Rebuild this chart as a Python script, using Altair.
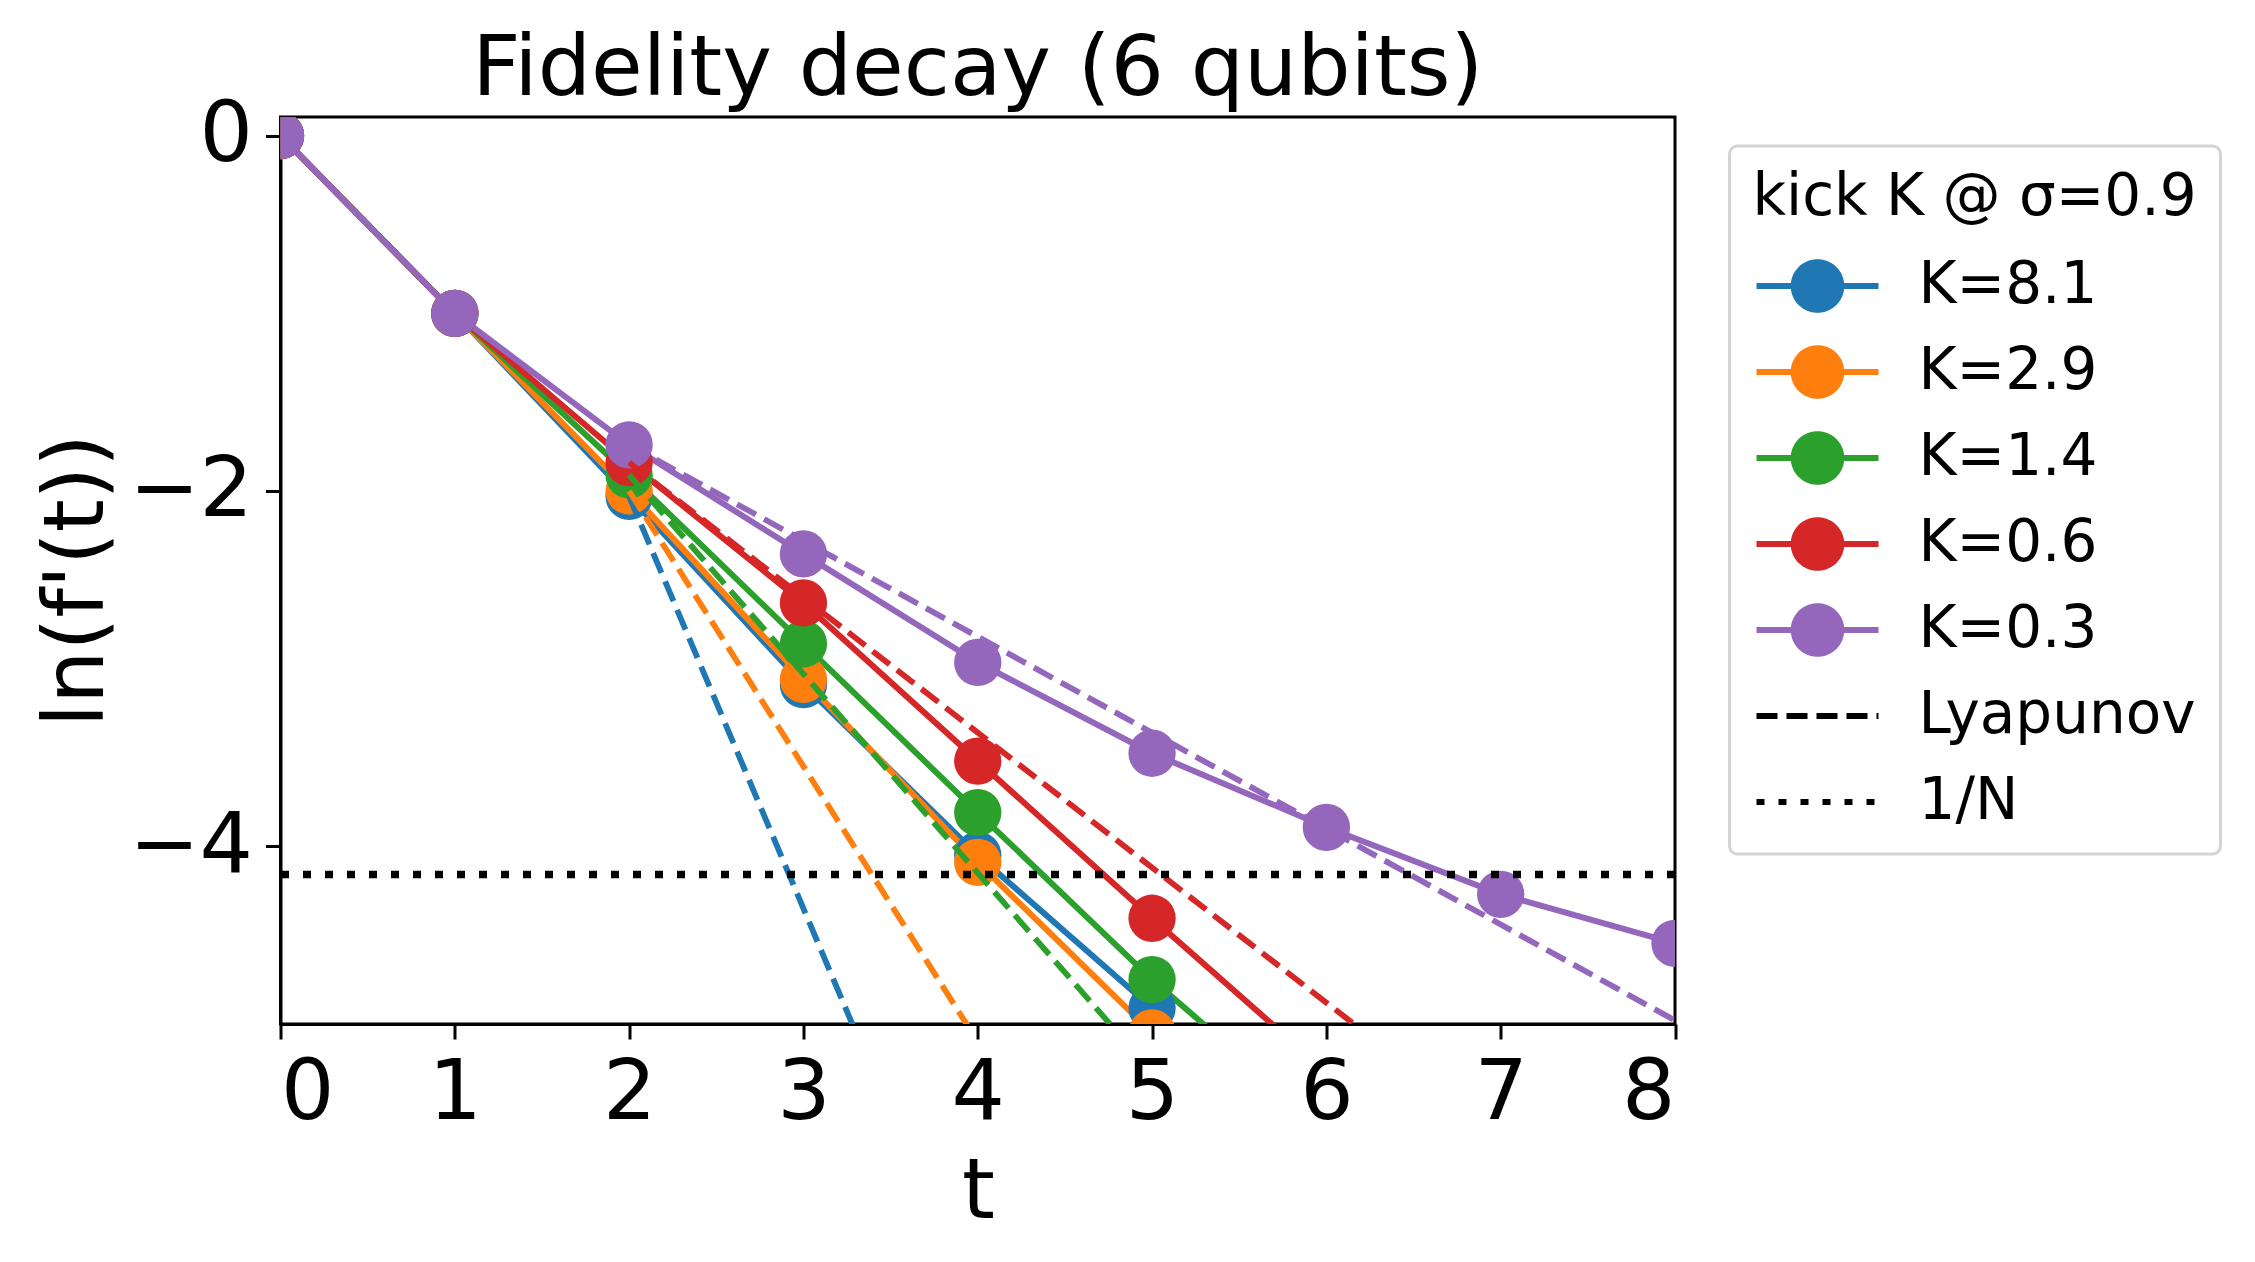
import altair as alt
import pandas as pd

# ---- data ----
series_names = ["K=8.1", "K=2.9", "K=1.4", "K=0.6", "K=0.3"]
series_colors = ["#1f77b4", "#ff7f0e", "#2ca02c", "#d62728", "#9467bd"]

t_blue = [0, 1, 2, 3, 4, 5, 6]
y_blue = [0.0, -1.0, -2.03, -3.09, -4.05, -4.91, -5.80]
t_orange = [0, 1, 2, 3, 4, 5, 6]
y_orange = [0.0, -1.0, -2.00, -3.06, -4.09, -5.05, -6.00]
t_green = [0, 1, 2, 3, 4, 5, 6]
y_green = [0.0, -1.0, -1.91, -2.86, -3.81, -4.75, -5.60]
t_red = [0, 1, 2, 3, 4, 5, 6]
y_red = [0.0, -1.0, -1.84, -2.63, -3.52, -4.405, -5.27]
t_purple = [0, 1, 2, 3, 4, 5, 6, 7, 8]
y_purple = [0.0, -1.0, -1.74, -2.354, -2.965, -3.476, -3.893, -4.27, -4.546]

# Lyapunov (dashed) lines: start at t=2, end at t=8
lyap_t = [2, 8]
lyap_blue = [-2.03, -15.95]
lyap_orange = [-2.00, -11.30]
lyap_green = [-1.91, -8.63]
lyap_red = [-1.84, -6.40]
lyap_purple = [-1.74, -4.98]

one_over_n = [-4.158]

legend_extra = ["Lyapunov", "1/N"]

# ---- tables ----
rows = []
for name, ts, ys in zip(series_names,
                        [t_blue, t_orange, t_green, t_red, t_purple],
                        [y_blue, y_orange, y_green, y_red, y_purple]):
    for t, y in zip(ts, ys):
        rows.append({"series": name, "t": t, "y": y})
df = pd.DataFrame(rows)

lrows = []
for name, ys in zip(series_names, [lyap_blue, lyap_orange, lyap_green, lyap_red, lyap_purple]):
    for t, y in zip(lyap_t, ys):
        lrows.append({"series": name, "t": t, "y": y})
dfl = pd.DataFrame(lrows)

dfn = pd.DataFrame({"y": one_over_n})
dfleg = pd.DataFrame({"series": series_names + legend_extra})

domain = series_names + legend_extra
color_range = series_colors + ["black", "black"]

R = 0.39
circ_line = (f"M-1,0L1,0M{R},0A{R},{R},0,1,1,-{R},0A{R},{R},0,1,1,{R},0Z")
plain_line = "M-1,0L1,0"
shape_range = [circ_line] * 5 + [plain_line, plain_line]
dash_range = [[1, 0]] * 5 + [[21, 9], [8, 14]]

FONT = "DejaVu Sans"

xscale = alt.Scale(domain=[0, 8], nice=False, zero=False)
yscale = alt.Scale(domain=[-5, 0.105], nice=False, zero=False)

x_enc = alt.X("t:Q", scale=xscale,
              axis=alt.Axis(title="t", values=list(range(9)), format="d",
                            titleX=697.5, titleY=193, titleBaseline="alphabetic",
                            titleAlign="center"))
y_enc = alt.Y("y:Q", scale=yscale,
              axis=alt.Axis(title="ln(f'(t))", values=[0, -2, -4], format="d",
                            titleX=-178, titleY=463, titleAngle=270,
                            titleBaseline="alphabetic", titleAlign="center"))

color_scale = alt.Scale(domain=domain, range=color_range)

leg = alt.Legend(
    title="kick K @ σ=0.9",
    orient="none", legendX=1449, legendY=29,
    symbolSize=14884, symbolStrokeWidth=6,
    clipHeight=58, rowPadding=28, labelOffset=37, symbolOffset=0,
    labelFont=FONT, labelFontSize=58, labelColor="black", labelLimit=1000,
    titleFont=FONT, titleFontSize=58, titleFontWeight="normal", titleColor="black",
    titleAnchor="middle", titlePadding=30, titleLimit=1000,
)

base = alt.Chart(df)

lines = base.mark_line(strokeWidth=6, clip=True).encode(
    x=x_enc, y=y_enc,
    color=alt.Color("series:N", scale=color_scale),
    detail="series:N",
)
points = base.mark_circle(size=2240, opacity=1, clip=True).encode(
    x=x_enc, y=y_enc,
    color=alt.Color("series:N", scale=color_scale),
)
dashed = alt.Chart(dfl).mark_line(strokeWidth=5.8, strokeDash=[21.5, 9.3], clip=True).encode(
    x=x_enc, y=y_enc,
    color=alt.Color("series:N", scale=color_scale),
    detail="series:N",
)
rule = alt.Chart(dfn).mark_rule(strokeWidth=7.5, strokeDash=[8, 14], color="black", clip=True).encode(
    y=alt.Y("y:Q", scale=yscale),
)

dummy = alt.Chart(dfleg).mark_point(filled=True, opacity=1, strokeWidth=6).encode(
    color=alt.Color("series:N", scale=color_scale, legend=leg),
    shape=alt.Shape("series:N", scale=alt.Scale(domain=domain, range=shape_range), legend=leg),
    strokeDash=alt.StrokeDash("series:N", scale=alt.Scale(domain=domain, range=dash_range), legend=leg),
).transform_filter("false")

chart = alt.layer(lines, points, dashed, rule, dummy).properties(
    width=1394.5, height=907,
    title=alt.TitleParams("Fidelity decay (6 qubits)", font=FONT, fontSize=84,
                          fontWeight="normal", color="black", anchor="middle",
                          baseline="alphabetic", offset=-85),
    autosize=alt.AutoSizeParams(type="none"),
    padding={"left": 272.5, "top": 109, "right": 560, "bottom": 220},
).configure_axis(
    labelFont=FONT, labelFontSize=84, labelColor="black",
    titleFont=FONT, titleFontSize=84, titleFontWeight="normal", titleColor="black",
    tickSize=15, tickWidth=3, tickColor="black",
    domainWidth=3, domainColor="black", grid=False, labelPadding=13,
).configure_view(
    stroke="black", strokeWidth=3,
).configure_legend(
    strokeColor="#d4d4d4", strokeWidth=3, cornerRadius=8, fillColor="white", padding=23,
)

chart.save("out.html", embed_options={"renderer": "svg", "actions": False})
